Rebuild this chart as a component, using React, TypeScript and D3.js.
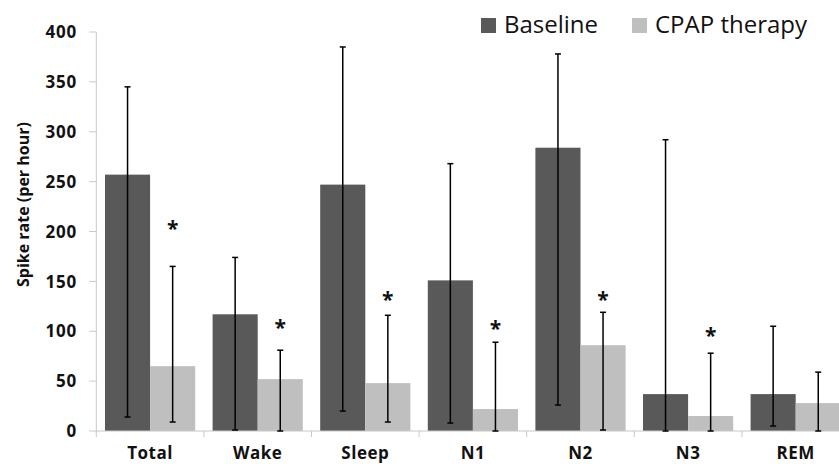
import React from 'react';
import * as d3 from 'd3';

const categories = ['Total', 'Wake', 'Sleep', 'N1', 'N2', 'N3', 'REM'];
const seriesNames = ['Baseline', 'CPAP therapy'];
const seriesColors = ['#595959', '#bfbfbf'];

// means, error bar bottoms and tops
const baseline = [257, 117, 247, 151, 284, 37, 37];
const baselineLow = [14, 1, 20, 8, 26, 0, 5];
const baselineHigh = [345, 174, 385, 268, 378, 292, 105];

const cpap = [65, 52, 48, 22, 86, 15, 28];
const cpapLow = [9, 0, 9, 0, 1, 0, 0];
const cpapHigh = [165, 81, 116, 89, 119, 78, 59];

// asterisk centre (in data units) above the CPAP bars, null = none
const starLevels = [206, 106, 134, 105, 134, 98, null];

const yTicks = [0, 50, 100, 150, 200, 250, 300, 350, 400];

const font = '"Open Sans", sans-serif';

function App() {
    const width = 839;
    const height = 464;
    const left = 96.3;
    const bandW = 107.6;

    const x = d3.scaleBand()
        .domain(categories)
        .range([left, left + bandW * categories.length]);

    const xInner = d3.scaleBand()
        .domain(seriesNames)
        .range([8.7, bandW - 8.7]);

    const y = d3.scaleLinear()
        .domain([0, 400])
        .range([431, 32]);

    const series = [
        { name: seriesNames[0], values: baseline, low: baselineLow, high: baselineHigh, color: seriesColors[0] },
        { name: seriesNames[1], values: cpap, low: cpapLow, high: cpapHigh, color: seriesColors[1] },
    ];

    const axisColor = '#c8c8c8';
    const capHalf = 3;

    return (
        <svg width={width} height={height} style={{ position: 'absolute', left: 0, top: 0, background: '#fff' }}>
            {/* y axis */}
            <line x1={left} x2={left} y1={y(400)} y2={y(0)} stroke={axisColor} />
            {yTicks.map(t => (
                <g key={t} transform={`translate(0, ${y(t)})`}>
                    <line x1={left - 7} x2={left} stroke={axisColor} />
                    <text x={77} dy="0.36em" textAnchor="end" fontFamily={font} fontWeight="bold" fontSize={17} letterSpacing={0.8} fill="#111">{t}</text>
                </g>
            ))}
            <text
                transform={`translate(29, ${y(227)}) rotate(-90)`}
                textAnchor="middle"
                fontFamily={font}
                fontWeight="bold"
                fontSize={16}
                fill="#111"
            >Spike rate (per hour)</text>

            {/* bars */}
            {series.map(s => (
                <g key={s.name}>
                    {categories.map((c, i) => (
                        <rect
                            key={c}
                            x={x(c)! + xInner(s.name)!}
                            y={y(s.values[i])}
                            width={xInner.bandwidth()}
                            height={y(0) - y(s.values[i])}
                            fill={s.color}
                        />
                    ))}
                </g>
            ))}

            {/* x axis */}
            <line x1={left} x2={left + bandW * categories.length} y1={y(0)} y2={y(0)} stroke={axisColor} />
            {categories.map(c => (
                <g key={c}>
                    <line x1={x(c)!} x2={x(c)!} y1={y(0)} y2={y(0) + 6} stroke={axisColor} />
                    <text x={x(c)! + bandW / 2} y={459} textAnchor="middle" fontFamily={font} fontWeight="bold" fontSize={17} letterSpacing={0.5} fill="#111">{c}</text>
                </g>
            ))}

            {/* error bars */}
            {series.map(s => (
                <g key={s.name + '-err'} stroke="#000" strokeWidth={1.5}>
                    {categories.map((c, i) => {
                        const cx = x(c)! + xInner(s.name)! + xInner.bandwidth() / 2;
                        return (
                            <g key={c}>
                                <line x1={cx} x2={cx} y1={y(s.low[i])} y2={y(s.high[i])} />
                                <line x1={cx - capHalf} x2={cx + capHalf} y1={y(s.high[i])} y2={y(s.high[i])} />
                                <line x1={cx - capHalf} x2={cx + capHalf} y1={y(s.low[i])} y2={y(s.low[i])} />
                            </g>
                        );
                    })}
                </g>
            ))}

            {/* significance markers */}
            {categories.map((c, i) => starLevels[i] == null ? null : (
                <text
                    key={c + '-star'}
                    x={x(c)! + xInner(seriesNames[1])! + xInner.bandwidth() / 2}
                    y={y(starLevels[i]!) + 10}
                    textAnchor="middle"
                    fontFamily={font}
                    fontWeight="bold"
                    fontSize={21}
                    fill="#111"
                >*</text>
            ))}

            {/* legend */}
            {seriesNames.map((n, i) => {
                const lx = [481, 632][i];
                return (
                    <g key={n}>
                        <rect x={lx} y={18} width={15} height={15} fill={seriesColors[i]} />
                        <text x={lx + 23} y={33} fontFamily={font} fontSize={24} fill="#111">{n}</text>
                    </g>
                );
            })}
        </svg>
    );
}

export default App;
